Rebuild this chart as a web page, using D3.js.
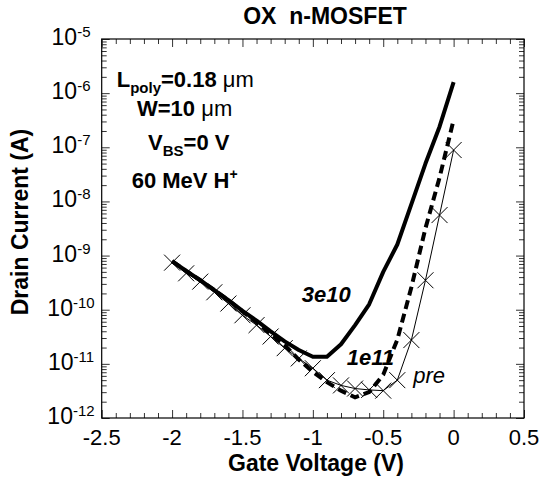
<!DOCTYPE html>
<html>
<head>
<meta charset="utf-8">
<script src="https://cdn.jsdelivr.net/npm/d3@7"></script>
<style>
body { margin: 0; background: #fff; }
svg text { font-family: "Liberation Sans", Arial, Helvetica, sans-serif; fill: #000; }
</style>
</head>
<body>
<div id="chart"></div>
<script>
// gate voltage (V) of every measured point
var voltages = [-2.0, -1.9, -1.8, -1.7, -1.6, -1.5, -1.4, -1.3, -1.2, -1.1, -1.0,
                -0.9, -0.8, -0.7, -0.6, -0.5, -0.4, -0.3, -0.2, -0.1, 0.0];
// drain current (A)
var preRad = [7.4e-10, 4.7e-10, 3.3e-10, 2.1e-10, 1.3e-10, 7.9e-11, 5.2e-11, 3.2e-11, 1.95e-11, 1.26e-11, 8.3e-12,
              5.0e-12, 4.0e-12, 3.5e-12, 3.3e-12, 3.2e-12, 5.0e-12, 2.75e-11, 3.5e-10, 5.6e-9, 8.9e-8];
var fluence1e11 = [7.9e-10, 5.2e-10, 3.5e-10, 2.3e-10, 1.5e-10, 9.3e-11, 5.9e-11, 3.6e-11, 2.2e-11, 1.2e-11, 7.1e-12,
                   4.6e-12, 3.2e-12, 2.4e-12, 3.0e-12, 6.3e-12, 2.8e-11, 2.6e-10, 3.2e-9, 2.75e-8, 3.2e-7];
var fluence3e10 = [7.9e-10, 5.2e-10, 3.5e-10, 2.3e-10, 1.5e-10, 9.5e-11, 6.3e-11, 4.0e-11, 2.6e-11, 1.8e-11, 1.35e-11,
                   1.35e-11, 2.3e-11, 5.2e-11, 1.26e-10, 5.0e-10, 1.6e-9, 8.9e-9, 5.0e-8, 2.4e-7, 1.6e-6];

var xMajor = [-2.5, -2, -1.5, -1, -0.5, 0, 0.5];
var xTickLabels = ['-2.5', '-2', '-1.5', '-1', '-0.5', '0', '0.5'];
var yExponents = [-12, -11, -10, -9, -8, -7, -6, -5];

var width = 542, height = 479;
var margin = {top: 39, right: 18, bottom: 61, left: 101.7};
var w = width - margin.left - margin.right;
var h = height - margin.top - margin.bottom;

var svg = d3.select('#chart').append('svg')
	.attr('width', width)
	.attr('height', height);

var g = svg.append('g').attr('transform', 'translate(' + margin.left + ',' + margin.top + ')');

var x = d3.scaleLinear().domain([-2.5, 0.5]).range([0, w]);
var y = d3.scaleLog().domain([1e-12, 1e-5]).range([h, 0]);

var xMinor = x.ticks(30).filter(function(v){ return xMajor.indexOf(+v.toFixed(1)) < 0; });
var yMajor = yExponents.map(function(e){ return Math.pow(10, e); });
var yMinor = y.ticks().filter(function(v){
	var l = Math.log10(v);
	return Math.abs(l - Math.round(l)) > 1e-6;
});

// ticks, all pointing inside the frame
function tickAxis(axis, values, size, transform){
	var a = g.append('g')
		.attr('class', 'tick-axis')
		.attr('transform', transform || null)
		.call(axis.tickValues(values).tickSize(size).tickSizeOuter(0).tickFormat(''));
	a.select('.domain').remove();
	a.selectAll('line').attr('stroke', '#333').attr('stroke-width', 1);
	return a;
}
tickAxis(d3.axisBottom(x), xMajor, -8, 'translate(0,' + h + ')');
tickAxis(d3.axisBottom(x), xMinor, -5, 'translate(0,' + h + ')');
tickAxis(d3.axisTop(x), xMajor, -8);
tickAxis(d3.axisTop(x), xMinor, -5);
tickAxis(d3.axisLeft(y), yMajor, -8);
tickAxis(d3.axisLeft(y), yMinor, -5);
tickAxis(d3.axisRight(y), yMajor, -8, 'translate(' + w + ',0)');
tickAxis(d3.axisRight(y), yMinor, -5, 'translate(' + w + ',0)');

g.append('rect')
	.attr('width', w)
	.attr('height', h)
	.attr('fill', 'none')
	.attr('stroke', '#000')
	.attr('stroke-width', 1.2);

// x tick labels
g.selectAll('.xlab').data(xMajor).join('text')
	.attr('class', 'xlab')
	.attr('x', function(d){ return x(d); })
	.attr('y', h + 27)
	.attr('text-anchor', 'middle')
	.style('font-size', '22px')
	.text(function(d, i){ return xTickLabels[i]; });

// y tick labels 10^n, centred in the left margin
g.selectAll('.ylab').data(yExponents).join('text')
	.attr('class', 'ylab')
	.attr('x', 71 - margin.left)
	.attr('y', function(d){ return y(Math.pow(10, d)) + 6; })
	.attr('text-anchor', 'middle')
	.style('font-size', '23px')
	.each(function(d){
		var t = d3.select(this);
		t.append('tspan').text('10');
		t.append('tspan').attr('dy', -8).style('font-size', '15px').text(d);
	});

// curves
var pts = function(vals){ return vals.map(function(v, i){ return [voltages[i], v]; }); };
var line = d3.line()
	.x(function(d){ return x(d[0]); })
	.y(function(d){ return y(d[1]); });

g.append('path')
	.datum(pts(fluence3e10))
	.attr('fill', 'none')
	.attr('stroke', '#000')
	.attr('stroke-width', 4)
	.attr('stroke-linejoin', 'round')
	.attr('d', line);

g.append('path')
	.datum(pts(fluence1e11))
	.attr('fill', 'none')
	.attr('stroke', '#000')
	.attr('stroke-width', 4)
	.attr('stroke-dasharray', '9,5')
	.attr('d', line);

g.append('path')
	.datum(pts(preRad))
	.attr('fill', 'none')
	.attr('stroke', '#000')
	.attr('stroke-width', 1)
	.attr('d', line);

g.selectAll('.mark').data(pts(preRad)).join('path')
	.attr('class', 'mark')
	.attr('transform', function(d){ return 'translate(' + x(d[0]) + ',' + y(d[1]) + ')'; })
	.attr('d', 'M-8,-8L8,8M-8,8L8,-8')
	.attr('fill', 'none')
	.attr('stroke', '#000')
	.attr('stroke-width', 1);

// axis titles
svg.append('text')
	.attr('x', 325)
	.attr('y', 24)
	.attr('text-anchor', 'middle')
	.style('font-size', '23px')
	.style('font-weight', 'bold')
	.style('white-space', 'pre')
	.text('OX  n-MOSFET');

svg.append('text')
	.attr('x', 316)
	.attr('y', 471)
	.attr('text-anchor', 'middle')
	.style('font-size', '23px')
	.style('font-weight', 'bold')
	.text('Gate Voltage (V)');

svg.append('text')
	.attr('transform', 'translate(28,222) rotate(-90)')
	.attr('text-anchor', 'middle')
	.style('font-size', '23px')
	.style('font-weight', 'bold')
	.text('Drain Current (A)');

// device annotation
function annot(xp, yp, main, sub, rest, unit){
	var t = svg.append('text')
		.attr('x', xp).attr('y', yp)
		.style('font-size', '22px')
		.style('font-weight', 'bold');
	t.append('tspan').text(main);
	if(sub){
		t.append('tspan').attr('dy', 6).style('font-size', '15px').text(sub);
		t.append('tspan').attr('dy', -6).text(rest);
	}else{
		t.append('tspan').text(rest);
	}
	if(unit) t.append('tspan').style('font-weight', 'normal').text(unit);
	return t;
}
annot(116.7, 86.7, 'L', 'poly', '=0.18 ', '\u03bcm');
annot(137, 116, 'W', null, '=10 ', '\u03bcm');
annot(148, 150, 'V', 'BS', '=0 V', null);

var ion = svg.append('text')
	.attr('x', 131.7).attr('y', 188.3)
	.style('font-size', '22px')
	.style('font-weight', 'bold');
ion.append('tspan').text('60 MeV H');
ion.append('tspan').attr('dy', -9).style('font-size', '14px').text('+');

// curve labels
svg.append('text')
	.attr('x', 301.7).attr('y', 301.7)
	.style('font-size', '22px')
	.style('font-weight', 'bold')
	.style('font-style', 'italic')
	.text('3e10');

svg.append('text')
	.attr('x', 346.7).attr('y', 365)
	.style('font-size', '22px')
	.style('font-weight', 'bold')
	.style('font-style', 'italic')
	.text('1e11');

svg.append('text')
	.attr('x', 413.3).attr('y', 383)
	.style('font-size', '22px')
	.style('font-style', 'italic')
	.text('pre');
</script>
</body>
</html>
